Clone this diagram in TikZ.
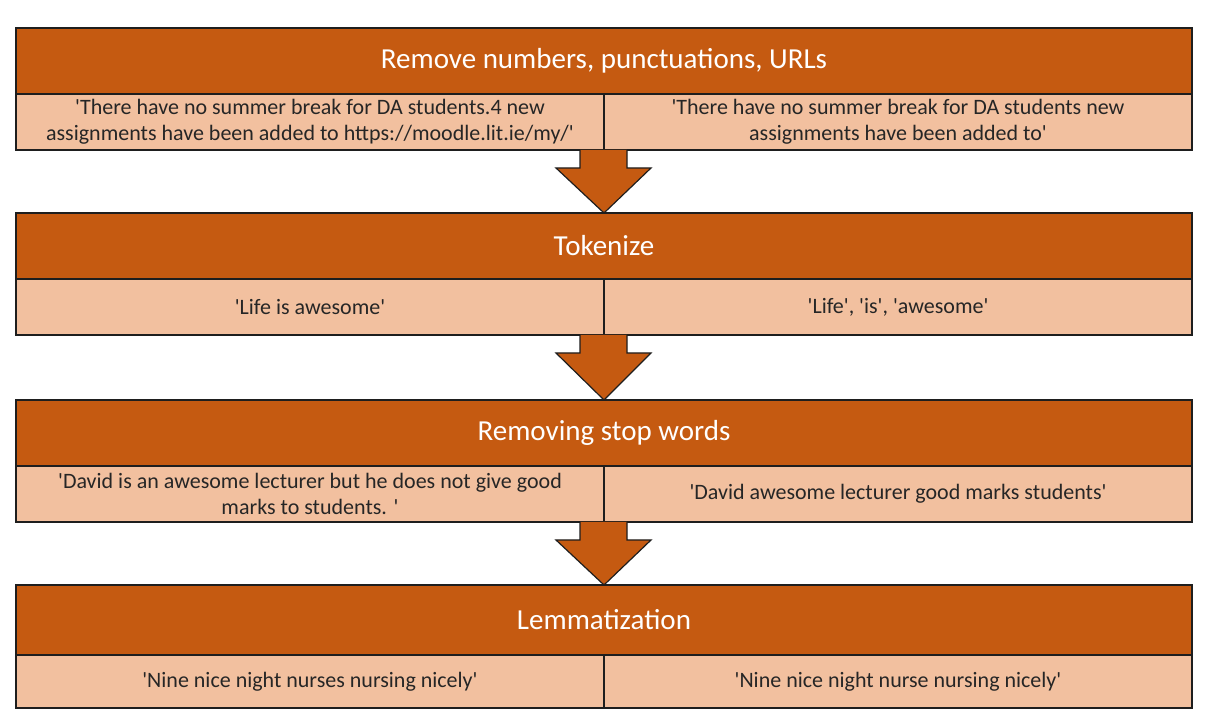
\documentclass[tikz,border=0pt]{standalone}
\usepackage{fontspec}
\setmainfont{Carlito}[Ligatures=TeXOff]
\usetikzlibrary{calc,positioning}
\definecolor{hdr}{HTML}{C55A11}
\definecolor{rowfill}{HTML}{F2C09F}
\definecolor{edge}{HTML}{1E1E1E}
\definecolor{txt}{HTML}{262626}
\tikzset{
  hdrbox/.style={draw=edge, line width=1.3pt, fill=hdr, text=white, minimum width=1176pt, inner sep=0pt, outer sep=0pt, anchor=north west, font=\fontsize{29}{34}\selectfont},
  rowbox/.style={draw=edge, line width=1.3pt, fill=rowfill, text=txt, minimum width=588pt, inner sep=0pt, outer sep=0pt, anchor=north west, align=center, font=\fontsize{22}{25.5}\selectfont},
  flowarrow/.style={draw=edge, line width=1.2pt, fill=hdr, line join=miter}
}
\newcommand{\flowstep}[2]{%
  \draw[flowarrow] ($(#1.south east)+(-24,0)$) -- ++(0,-18) -- ++(-24,0) -- ($(#2.north)$) -- ($(#1.south east)+(47,-18)$) -- ++(-24,0) -- ++(0,18);
}
\begin{document}
\begin{tikzpicture}[x=1pt,y=1pt]
\useasboundingbox[fill=white] (0,0) rectangle (1224,726);
% block 1
\node[hdrbox, minimum height=66pt] (h1) at (16,698) {Remove numbers, punctuations, URLs};
\node[rowbox, minimum height=56pt] (l1) at (16,632) {'There have no summer break for DA students.4 new\\assignments have been added to https://moodle.lit.ie/my/'};
\node[rowbox, minimum height=56pt] (r1) at (604,632) {'There have no summer break for DA students new\\assignments have been added to'};
% block 2
\node[hdrbox, minimum height=66pt] (h2) at (16,513) {Tokenize};
\node[rowbox, minimum height=56pt] (l2) at (16,447) {'Life is awesome'};
\node[rowbox, minimum height=56pt] (r2) at (604,447) {'Life', 'is', 'awesome'};
% block 3
\node[hdrbox, minimum height=66pt] (h3) at (16,326) {Removing stop words};
\node[rowbox, minimum height=56pt] (l3) at (16,260) {'David is an awesome lecturer but he does not give good\\marks to students. '};
\node[rowbox, minimum height=56pt] (r3) at (604,260) {'David awesome lecturer good marks students'};
% block 4
\node[hdrbox, minimum height=70pt] (h4) at (16,141) {Lemmatization};
\node[rowbox, minimum height=53pt] (l4) at (16,71) {'Nine nice night nurses nursing nicely'};
\node[rowbox, minimum height=53pt] (r4) at (604,71) {'Nine nice night nurse nursing nicely'};
% arrows
\flowstep{l1}{h2}
\flowstep{l2}{h3}
\flowstep{l3}{h4}
\end{tikzpicture}
\end{document}
